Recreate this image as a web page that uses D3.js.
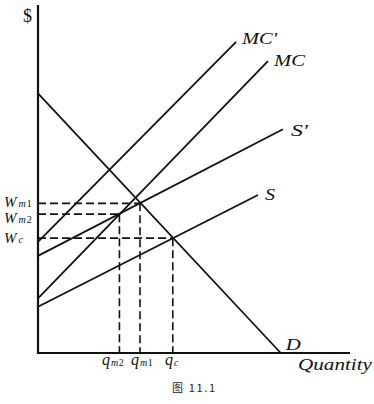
<!DOCTYPE html>
<html><head><meta charset="utf-8">
<script src="https://cdn.jsdelivr.net/npm/d3@7"></script>
<style>html,body{margin:0;padding:0;background:#fff;}svg{display:block;}</style>
</head><body>
<script>
// Curves: [x, y] endpoints in chart units (quantity 0-100, $ 0-100)
const curveNames = ["D", "MC'", "MC", "S'", "S"];
const curveStart = [[0, 74.6], [0, 31.9], [0, 15.7], [0, 27.9], [0, 13.3]];
const curveEnd   = [[77.8, 0], [63.5, 89.4], [73.7, 83.9], [78.5, 64.3], [70.5, 45.4]];
// Equilibrium points: wage / quantity pairs
const pointWage = ["m1", "m2", "c"];
const pointQ    = [32.7, 26.1, 43.2];
const pointW    = [43.0, 39.9, 33.0];
const axisLabels = ["$", "Quantity"];
const caption = "图 11.1";

const W = 374, H = 404;
const svg = d3.select("body").append("svg").attr("width", W).attr("height", H);
const x = d3.scaleLinear().domain([0, 100]).range([38, 350]);
const y = d3.scaleLinear().domain([0, 100]).range([353, 5]);
const serif = "'Liberation Serif','DejaVu Serif',serif";

// dashed guides
const g = svg.append("g").attr("stroke", "#111").attr("stroke-width", 1.6)
  .attr("stroke-dasharray", "8,4").attr("fill", "none");
pointQ.forEach((q, i) => {
  g.append("line").attr("x1", x(0)).attr("y1", y(pointW[i])).attr("x2", x(q)).attr("y2", y(pointW[i]));
  g.append("line").attr("x1", x(q)).attr("y1", y(pointW[i])).attr("x2", x(q)).attr("y2", y(0));
});

// curves
const line = d3.line().x(d => x(d[0])).y(d => y(d[1]));
curveNames.forEach((n, i) => {
  svg.append("path").attr("d", line([curveStart[i], curveEnd[i]]))
    .attr("stroke", "#111").attr("stroke-width", 1.8).attr("fill", "none");
});

// axes
svg.append("line").attr("x1", x(0)).attr("y1", y(0) + 1).attr("x2", x(0)).attr("y2", y(100))
  .attr("stroke", "#111").attr("stroke-width", 2.2);
svg.append("line").attr("x1", x(0) - 1).attr("y1", y(0)).attr("x2", x(100)).attr("y2", y(0))
  .attr("stroke", "#111").attr("stroke-width", 2.2);

// curve labels
const labelOff = [[5, -3], [6, 2], [6, 5], [8, 7], [7, 5]];
const labelLen = [15, 35, 31, 17, 10];
curveNames.forEach((n, i) => {
  const e = curveEnd[i];
  svg.append("text").attr("x", x(e[0]) + labelOff[i][0]).attr("y", y(e[1]) + labelOff[i][1])
    .attr("font-family", serif).attr("font-style", "italic").attr("font-size", 17).attr("fill", "#111")
    .attr("textLength", labelLen[i]).attr("lengthAdjust", "spacingAndGlyphs")
    .text(n);
});

// wage labels on y axis
const wBase = [207, 223, 243];
pointWage.forEach((s, i) => {
  const t = svg.append("text").attr("x", 4).attr("y", wBase[i])
    .attr("font-family", serif).attr("font-style", "italic").attr("font-size", 14).attr("fill", "#111");
  t.append("tspan").attr("font-size", 15).text("W");
  const sub = s.replace(/[0-9]/g, "");
  const num = s.replace(/[^0-9]/g, "");
  t.append("tspan").attr("font-size", 10).attr("dx", 2).text(sub);
  if (num) t.append("tspan").attr("font-size", 10).attr("dx", 1).attr("font-style", "normal").text(num);
});

// quantity labels on x axis (left-aligned as in the figure)
const qLabelX = [131, 102, 165];
pointQ.forEach((q, i) => {
  const s = pointWage[i];
  const t = svg.append("text").attr("x", qLabelX[i]).attr("y", 365)
    .attr("font-family", serif).attr("font-style", "italic").attr("font-size", 16).attr("fill", "#111");
  t.append("tspan").text("q");
  const sub = s.replace(/[0-9]/g, "");
  const num = s.replace(/[^0-9]/g, "");
  t.append("tspan").attr("font-size", 10).attr("dx", 1).attr("dy", 1).text(sub);
  if (num) t.append("tspan").attr("font-size", 10).attr("dx", 0.5).attr("font-style", "normal").text(num);
});

// axis titles
svg.append("text").attr("x", 23).attr("y", 22).attr("font-family", serif).attr("font-size", 18)
  .attr("fill", "#111").text(axisLabels[0]);
svg.append("text").attr("x", 298).attr("y", 370).attr("font-family", serif).attr("font-style", "italic")
  .attr("font-size", 17).attr("fill", "#111")
  .attr("textLength", 74).attr("lengthAdjust", "spacingAndGlyphs").text(axisLabels[1]);

// caption
svg.append("text").attr("x", 172).attr("y", 392).attr("font-family", "'Noto Sans CJK SC', serif")
  .attr("font-size", 11).attr("fill", "#222")
  .attr("textLength", 43).attr("lengthAdjust", "spacing")
  .text(caption);
</script>
</body></html>
